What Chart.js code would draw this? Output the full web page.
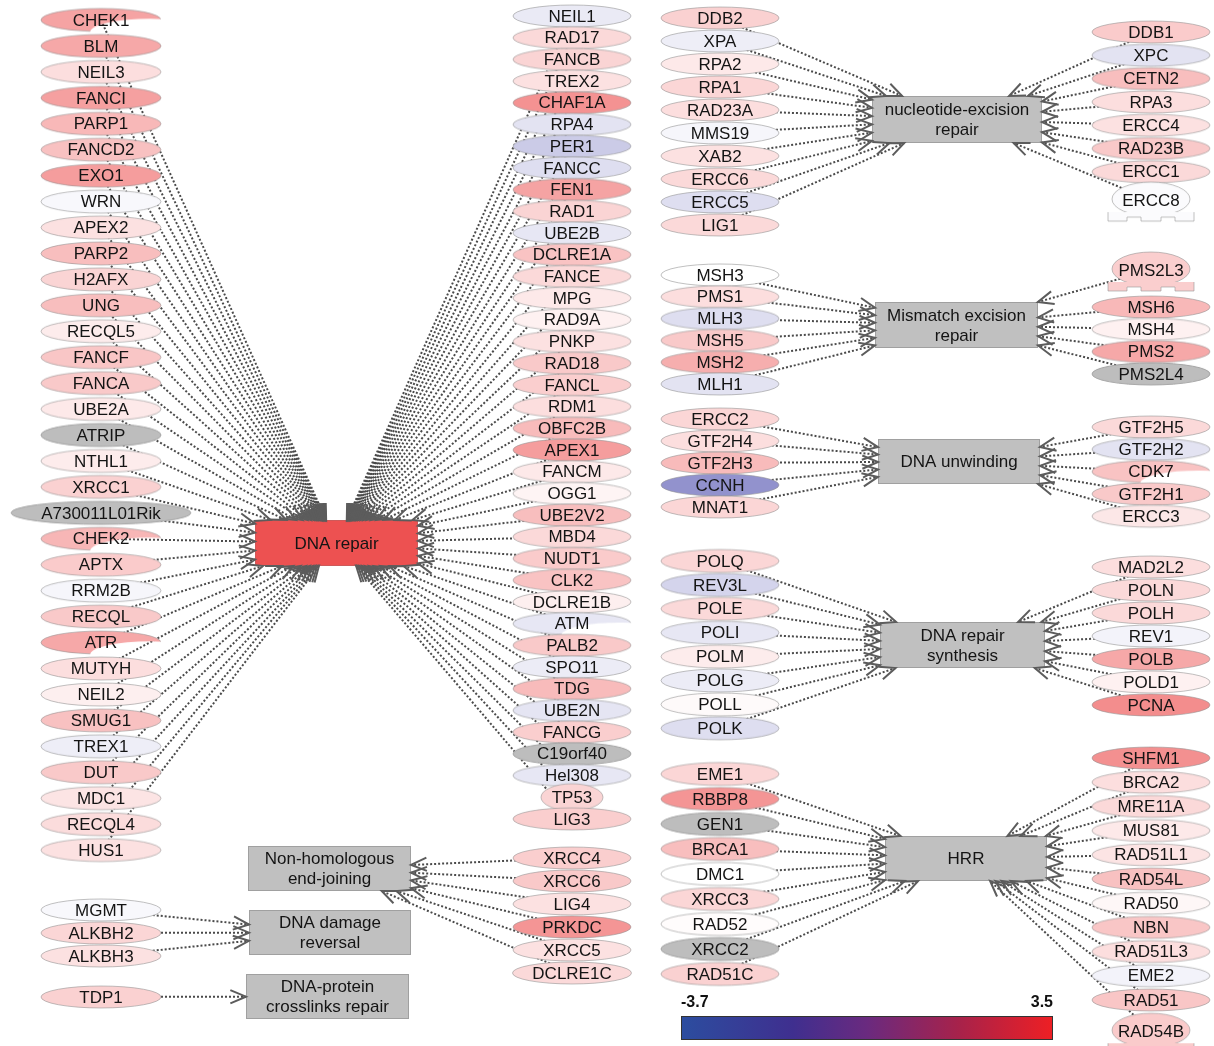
<!DOCTYPE html>
<html><head><meta charset="utf-8">
<script src="https://cdn.jsdelivr.net/npm/chart.js@4.4.1/dist/chart.umd.min.js"></script>
<style>html,body{margin:0;padding:0;background:#fff;}#wrap{width:1214px;height:1046px;}</style>
</head><body><div id="wrap"><canvas id="c" width="1214" height="1046"></canvas></div>
<script>
// ---------------- DATA ----------------
const hubNames = ['DNA repair','nucleotide-excision repair','Mismatch excision repair','DNA unwinding','DNA repair synthesis','HRR','Non-homologous end-joining','DNA damage reversal','DNA-protein crosslinks repair'];
const hubLabelLines = [['DNA repair'],['nucleotide-excision','repair'],['Mismatch excision','repair'],['DNA unwinding'],['DNA repair','synthesis'],['HRR'],['Non-homologous','end-joining'],['DNA damage','reversal'],['DNA-protein','crosslinks repair']];
const hubValues = [3.2,null,null,null,null,null,null,null,null];

const drLeftGenes = ['CHEK1','BLM','NEIL3','FANCI','PARP1','FANCD2','EXO1','WRN','APEX2','PARP2','H2AFX','UNG','RECQL5','FANCF','FANCA','UBE2A','ATRIP','NTHL1','XRCC1','A730011L01Rik','CHEK2','APTX','RRM2B','RECQL','ATR','MUTYH','NEIL2','SMUG1','TREX1','DUT','MDC1','RECQL4','HUS1'];
const drLeftValues = [1.7,1.6,0.6,1.75,1.3,1.15,1.8,-0.15,0.55,1.2,0.8,1.2,0.35,1.05,1.0,0.4,null,0.35,0.85,null,1.35,0.95,-0.2,1.0,1.6,0.6,0.3,1.15,-0.35,1.0,0.5,0.65,0.55];
const drRightGenes = ['NEIL1','RAD17','FANCB','TREX2','CHAF1A','RPA4','PER1','FANCC','FEN1','RAD1','UBE2B','DCLRE1A','FANCE','MPG','RAD9A','PNKP','RAD18','FANCL','RDM1','OBFC2B','APEX1','FANCM','OGG1','UBE2V2','MBD4','NUDT1','CLK2','DCLRE1B','ATM','PALB2','SPO11','TDG','UBE2N','FANCG','C19orf40','Hel308','TP53','LIG3'];
const drRightValues = [-0.45,0.7,0.8,0.55,2.0,-0.6,-1.1,-0.7,1.7,0.8,-0.5,1.1,0.7,0.4,0.25,0.55,1.0,0.9,0.6,1.25,1.8,0.4,0.2,1.2,0.7,0.95,1.1,0.3,-0.5,1.0,-0.4,1.25,-0.55,0.9,null,-0.5,0.8,0.9];
const nerLeftGenes = ['DDB2','XPA','RPA2','RPA1','RAD23A','MMS19','XAB2','ERCC6','ERCC5','LIG1'];
const nerLeftValues = [0.85,-0.35,0.4,0.75,0.6,-0.2,0.55,0.7,-0.7,0.7];
const nerRightGenes = ['DDB1','XPC','CETN2','RPA3','ERCC4','RAD23B','ERCC1','ERCC8'];
const nerRightValues = [0.95,-0.6,1.2,0.6,0.55,1.0,0.7,-0.08];
const mmrLeftGenes = ['MSH3','PMS1','MLH3','MSH5','MSH2','MLH1'];
const mmrLeftValues = [0.0,0.6,-0.7,1.0,1.5,-0.6];
const mmrRightGenes = ['PMS2L3','MSH6','MSH4','PMS2','PMS2L4'];
const mmrRightValues = [0.9,1.3,0.25,1.6,null];
const unwLeftGenes = ['ERCC2','GTF2H4','GTF2H3','CCNH','MNAT1'];
const unwLeftValues = [0.75,0.6,1.25,-2.3,0.75];
const unwRightGenes = ['GTF2H5','GTF2H2','CDK7','GTF2H1','ERCC3'];
const unwRightValues = [0.7,-0.6,1.1,1.0,0.45];
const synLeftGenes = ['POLQ','REV3L','POLE','POLI','POLM','POLG','POLL','POLK'];
const synLeftValues = [0.75,-0.9,0.7,-0.5,0.35,-0.4,0.1,-0.7];
const synRightGenes = ['MAD2L2','POLN','POLH','REV1','POLB','POLD1','PCNA'];
const synRightValues = [0.6,0.7,0.7,-0.25,1.6,0.25,2.1];
const hrrLeftGenes = ['EME1','RBBP8','GEN1','BRCA1','DMC1','XRCC3','RAD52','XRCC2','RAD51C'];
const hrrLeftValues = [0.75,1.95,null,1.2,0.0,0.75,0.05,null,0.85];
const hrrRightGenes = ['SHFM1','BRCA2','MRE11A','MUS81','RAD51L1','RAD54L','RAD50','NBN','RAD51L3','EME2','RAD51','RAD54B'];
const hrrRightValues = [2.05,0.6,0.7,0.4,0.5,1.15,0.15,1.05,0.6,-0.25,1.05,0.95];
const nhejGenes = ['XRCC4','XRCC6','LIG4','PRKDC','XRCC5','DCLRE1C'];
const nhejValues = [0.9,1.0,0.55,1.95,0.55,0.7];
const ddrGenes = ['MGMT','ALKBH2','ALKBH3'];
const ddrValues = [-0.15,0.75,0.55];
const dpcGenes = ['TDP1'];
const dpcValues = [0.85];
const colorScaleMin = -3.7, colorScaleMax = 3.5;
const colorBarTicks = ['-3.7','3.5'];

// ---------------- STYLE / LAYOUT ----------------
const W = 1214, H = 1046;
const FONT = '17px "Liberation Sans", Arial, sans-serif';
const SHAPES = {CHEK1:'crescent',CHEK2:'crescent',ATR:'crescent',ATM:'crescent',CDK7:'crescent',ERCC8:'dome',PMS2L3:'dome',RAD54B:'dome',TP53:'small'};
const HUB_LAYOUT = [
  {cx:336.5,cy:543,w:163,h:46},{cx:957,cy:119.5,w:170,h:47},{cx:956.5,cy:325,w:163,h:46},
  {cx:959,cy:461.5,w:162,h:45},{cx:962.5,cy:645,w:165,h:46},{cx:966,cy:858.5,w:162,h:45},
  {cx:329.5,cy:868.5,w:163,h:45},{cx:330,cy:932.5,w:162,h:45},{cx:327.5,cy:996.5,w:163,h:45}];
const GROUPS = [
  {genes:drLeftGenes,values:drLeftValues,hub:0,x:101,y0:20,step:25.94,w:120,h:23},
  {genes:drRightGenes,values:drRightValues,hub:0,x:572,y0:16,step:21.7,w:118,h:22},
  {genes:nerLeftGenes,values:nerLeftValues,hub:1,x:720,y0:18,step:23,w:118,h:22},
  {genes:nerRightGenes,values:nerRightValues,hub:1,x:1151,y0:32,step:23.3,w:118,h:22,domeGap:5},
  {genes:mmrLeftGenes,values:mmrLeftValues,hub:2,x:720,y0:275,step:21.8,w:118,h:22},
  {genes:mmrRightGenes,values:mmrRightValues,hub:2,x:1151,y0:270,step:22.3,w:118,h:22,domeGap:14.7},
  {genes:unwLeftGenes,values:unwLeftValues,hub:3,x:720,y0:419,step:22,w:118,h:22},
  {genes:unwRightGenes,values:unwRightValues,hub:3,x:1151,y0:427,step:22.3,w:118,h:22},
  {genes:synLeftGenes,values:synLeftValues,hub:4,x:720,y0:561,step:23.9,w:118,h:23},
  {genes:synRightGenes,values:synRightValues,hub:4,x:1151,y0:567,step:23,w:118,h:22},
  {genes:hrrLeftGenes,values:hrrLeftValues,hub:5,x:720,y0:774,step:25,w:118,h:23},
  {genes:hrrRightGenes,values:hrrRightValues,hub:5,x:1151,y0:758,step:24.2,w:118,h:22,domeGap:7},
  {genes:nhejGenes,values:nhejValues,hub:6,x:572,y0:858,step:23,w:118,h:22},
  {genes:ddrGenes,values:ddrValues,hub:7,x:101,y0:910,step:23,w:120,h:22},
  {genes:dpcGenes,values:dpcValues,hub:8,x:101,y0:997,step:0,w:120,h:22}];

function rgb(r,g,b){return 'rgb('+Math.round(r)+','+Math.round(g)+','+Math.round(b)+')';}
function valueColor(v){
  if (v === null || v === undefined) return 'rgb(189,189,189)';
  if (v >= 0){const t=Math.min(1,v/colorScaleMax);return rgb(255-t*20,255-t*190,255-t*190);}
  const t=Math.min(1,v/colorScaleMin);return rgb(255-t*175,255-t*175,255-t*80);
}
const measureCtx = document.createElement('canvas').getContext('2d');
measureCtx.font = FONT;

function makeNodeImage(shape, fill, stroke, w, h){
  const c = document.createElement('canvas');
  if (shape === 'dome'){
    c.width = 92; c.height = 48;
    const g = c.getContext('2d'); g.translate(46,24);
    g.fillStyle = fill; g.strokeStyle = stroke; g.lineWidth = 1;
    g.beginPath(); g.ellipse(0,-1,39,17,0,0,Math.PI*2); g.fill(); g.stroke();
    const pts = [[-43,12],[-43,21],[-24,21],[-24,17],[-10,17],[-10,21],[10,21],[10,17],[24,17],[24,21],[43,21],[43,12]];
    g.beginPath(); pts.forEach((p,i)=> i? g.lineTo(p[0],p[1]) : g.moveTo(p[0],p[1])); g.closePath(); g.fill();
    g.beginPath(); pts.forEach((p,i)=> i? g.lineTo(p[0],p[1]) : g.moveTo(p[0],p[1])); g.stroke();
    return c;
  }
  if (shape === 'small'){ w = 62; h = 27; }
  c.width = Math.ceil(w)+4; c.height = Math.ceil(h)+4;
  const g = c.getContext('2d');
  const cx = c.width/2, cy = c.height/2;
  g.fillStyle = fill; g.strokeStyle = stroke; g.lineWidth = 1;
  g.beginPath(); g.ellipse(cx,cy,w/2,h/2,0,0,Math.PI*2); g.fill(); g.stroke();
  if (shape === 'crescent'){
    g.globalCompositeOperation = 'destination-out';
    g.beginPath(); g.ellipse(cx+0.41*w, cy+0.52*h, 0.5*w, 0.57*h, 0, 0, Math.PI*2); g.fill();
    g.globalCompositeOperation = 'source-over';
  }
  return c;
}
function makeHubImage(fill, stroke, w, h){
  const c = document.createElement('canvas');
  c.width = w+2; c.height = h+2;
  const g = c.getContext('2d');
  g.fillStyle = fill; g.fillRect(1,1,w,h);
  g.strokeStyle = stroke; g.lineWidth = 1; g.strokeRect(1.5,1.5,w-1,h-1);
  return c;
}
function boxTip(hub, sx, sy){
  const dx = sx-hub.cx, dy = sy-hub.cy;
  const t = Math.min(dx? (hub.w/2)/Math.abs(dx) : Infinity, dy? (hub.h/2)/Math.abs(dy) : Infinity);
  return {x: hub.cx+dx*t, y: hub.cy+dy*t};
}

// ---------------- BUILD DATASETS ----------------
const nodePts = [], nodeStyles = [], nodeNames = [];
const edgeData = HUB_LAYOUT.map(()=>[]);
const arrows = [];
GROUPS.forEach(g=>{
  let yy = g.y0;
  g.genes.forEach((name,i)=>{
    if (i>0){ yy += g.step; if (SHAPES[name]==='dome' || SHAPES[g.genes[i-1]]==='dome') yy += (g.domeGap||0); }
    const v = g.values[i];
    const shape = SHAPES[name] || 'ellipse';
    const tw = measureCtx.measureText(name).width;
    const w = Math.max(g.w, tw*1.5);
    const stroke = v===null ? 'rgb(165,165,165)' : 'rgba(150,150,150,0.6)';
    nodePts.push({x:g.x, y:yy});
    nodeStyles.push(makeNodeImage(shape, valueColor(v), stroke, w, g.h));
    nodeNames.push(name);
    const hub = HUB_LAYOUT[g.hub];
    const tip = boxTip(hub, g.x, yy);
    edgeData[g.hub].push({x:g.x,y:yy},{x:tip.x,y:tip.y},{x:null,y:null});
    arrows.push({sx:g.x, sy:yy, tx:tip.x, ty:tip.y});
  });
});
const hubPts = HUB_LAYOUT.map(h=>({x:h.cx,y:h.cy}));
const hubStyles = HUB_LAYOUT.map((h,i)=> makeHubImage(hubValues[i]===null? 'rgb(192,192,192)' : valueColor(hubValues[i]), hubValues[i]===null? 'rgb(160,160,160)':'rgb(205,90,90)', h.w, h.h));

const datasets = [
  {label:'genes', data:nodePts, pointStyle:nodeStyles, pointRadius:1, pointBorderWidth:0, showLine:false, order:0},
  {label:'pathways', data:hubPts, pointStyle:hubStyles, pointRadius:1, pointBorderWidth:0, showLine:false, order:1}
];
edgeData.forEach((d,i)=>datasets.push({label:'edges '+hubNames[i], data:d, showLine:true, spanGaps:false, borderColor:'#4a4a4a', borderWidth:2, borderDash:[2,2], pointRadius:0, tension:0, order:2}));

const overlay = {
  id:'overlay',
  afterDatasetsDraw(chart){
    const ctx = chart.ctx, xs = chart.scales.x, ys = chart.scales.y;
    ctx.save();
    // arrowheads
    ctx.strokeStyle = '#5c5c5c'; ctx.lineWidth = 2; ctx.lineJoin = 'miter'; ctx.setLineDash([]);
    const L = 17, phi = 0.40;
    arrows.forEach(a=>{
      const tx = xs.getPixelForValue(a.tx), ty = ys.getPixelForValue(a.ty);
      const sx = xs.getPixelForValue(a.sx), sy = ys.getPixelForValue(a.sy);
      const ang = Math.atan2(ty-sy, tx-sx);
      ctx.beginPath();
      ctx.moveTo(tx - L*Math.cos(ang-phi), ty - L*Math.sin(ang-phi));
      ctx.lineTo(tx, ty);
      ctx.lineTo(tx - L*Math.cos(ang+phi), ty - L*Math.sin(ang+phi));
      ctx.stroke();
    });
    // node labels
    ctx.font = FONT; ctx.fillStyle = '#141414'; ctx.textAlign = 'center'; ctx.textBaseline = 'middle';
    nodePts.forEach((p,i)=> ctx.fillText(nodeNames[i], xs.getPixelForValue(p.x), ys.getPixelForValue(p.y)+1));
    // hub labels
    HUB_LAYOUT.forEach((h,i)=>{
      const lines = hubLabelLines[i];
      const px = xs.getPixelForValue(h.cx), py = ys.getPixelForValue(h.cy);
      lines.forEach((ln,k)=> ctx.fillText(ln, px, py + (k-(lines.length-1)/2)*20 + 1));
    });
    // colour bar
    const x0 = xs.getPixelForValue(681), x1 = xs.getPixelForValue(1053);
    const y0 = ys.getPixelForValue(1016), y1 = ys.getPixelForValue(1040);
    const grad = ctx.createLinearGradient(x0,0,x1,0);
    grad.addColorStop(0,'#2c4d9f'); grad.addColorStop(0.3,'#3f2f8f'); grad.addColorStop(0.5,'#6a2a7f');
    grad.addColorStop(0.75,'#a8224a'); grad.addColorStop(1,'#ee1f24');
    ctx.fillStyle = grad; ctx.fillRect(x0,y0,x1-x0,y1-y0);
    ctx.strokeStyle = '#333'; ctx.lineWidth = 1; ctx.strokeRect(x0+0.5,y0+0.5,x1-x0-1,y1-y0-1);
    ctx.fillStyle = '#111'; ctx.font = 'bold 16px "Liberation Sans", Arial, sans-serif';
    ctx.textAlign = 'left'; ctx.fillText(colorBarTicks[0], x0, ys.getPixelForValue(1003));
    ctx.textAlign = 'right'; ctx.fillText(colorBarTicks[1], x1, ys.getPixelForValue(1003));
    ctx.restore();
  }
};

new Chart(document.getElementById('c'), {
  type:'scatter',
  data:{datasets},
  options:{
    responsive:false, animation:false, events:[],
    layout:{padding:0, autoPadding:false},
    plugins:{legend:{display:false}, tooltip:{enabled:false}},
    scales:{
      x:{type:'linear', min:0, max:W, display:false},
      y:{type:'linear', min:0, max:H, reverse:true, display:false}
    }
  },
  plugins:[overlay]
});
</script></body></html>
